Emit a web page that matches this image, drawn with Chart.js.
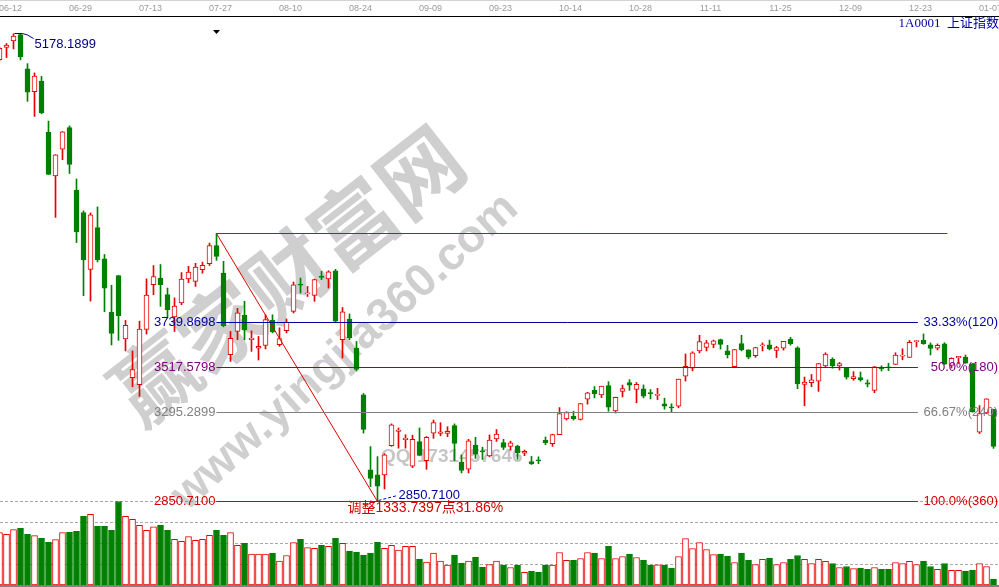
<!DOCTYPE html>
<html>
<head>
<meta charset="utf-8">
<script src="https://cdn.jsdelivr.net/npm/chart.js@4.4.1/dist/chart.umd.min.js"></script>
<style>
  html, body { margin: 0; padding: 0; background: #fff; }
  canvas { display: block; }
</style>
</head>
<body>
<canvas id="myChart" width="999" height="587"></canvas>
<script>
// first two bars (06-10, 06-11) sit partly off the left edge
var idx0 = -2;

var dates = ["06-10","06-11","06-12","06-15","06-16","06-17","06-18","06-19","06-23","06-24","06-25","06-26","06-29","06-30",
  "07-01","07-02","07-03","07-06","07-07","07-08","07-09","07-10","07-13","07-14","07-15","07-16","07-17","07-20","07-21","07-22","07-23","07-24","07-27","07-28","07-29","07-30","07-31",
  "08-03","08-04","08-05","08-06","08-07","08-10","08-11","08-12","08-13","08-14","08-17","08-18","08-19","08-20","08-21","08-24","08-25","08-26","08-27","08-28","08-31",
  "09-01","09-02","09-07","09-08","09-09","09-10","09-11","09-14","09-15","09-16","09-17","09-18","09-21","09-22","09-23","09-24","09-25","09-28","09-29","09-30",
  "10-08","10-09","10-12","10-13","10-14","10-15","10-16","10-19","10-20","10-21","10-22","10-23","10-26","10-27","10-28","10-29","10-30",
  "11-02","11-03","11-04","11-05","11-06","11-09","11-10","11-11","11-12","11-13","11-16","11-17","11-18","11-19","11-20","11-23","11-24","11-25","11-26","11-27","11-30",
  "12-01","12-02","12-03","12-04","12-07","12-08","12-09","12-10","12-11","12-14","12-15","12-16","12-17","12-18","12-21","12-22","12-23","12-24","12-25","12-28","12-29","12-30","12-31",
  "01-04","01-05","01-06","01-07"];

var opens = [5050,5110,5143,5174,5004,4890,4942,4689,4471,4604,4711,4399,4289,4006,
  4214,4058,3793,3975,3660,3467,3432,3707,3930,3963,3880,3769,3839,3958,3946,4004,4034,4124,3988,3581,3697,3778,3656,
  3614,3627,3752,3631,3701,3797,3930,3884,3876,3973,3958,3999,3656,3759,3614,3382,3008,2983,2983,3129,3200,
  3158,3027,3149,3054,3191,3190,3189,3228,3046,3011,3130,3100,3078,3162,3144,3125,3127,3091,3049,3053,
  3156,3139,3183,3262,3275,3259,3360,3404,3381,3428,3301,3398,3443,3408,3411,3390,3379,
  3337,3322,3325,3474,3514,3600,3617,3632,3656,3600,3522,3636,3605,3577,3625,3631,3602,3614,3659,3616,3433,
  3442,3450,3525,3558,3525,3513,3462,3467,3441,3403,3514,3518,3533,3574,3568,3646,3653,3631,3614,3635,3528,3566,3570,
  3536,3196,3291,3309];

var highs = [5112,5130,5178.19,5176.79,5029.68,4983.67,4966,4744,4577,4691.77,4720,4456,4297,4287,
  4317,4080,3927,3975.21,3752,3600,3748,3959,4025,4030,3913,3864,3990,4021,4036,4042,4137,4184.4497,4046,3697,3812,3847,3700,
  3672,3780,3780,3715,3759,3943,3963,3921,3958,3996,3999,4006,3816,3784,3647,3388,3124,3074,3088,3237,3217,
  3183,3181,3217,3174,3256,3243,3223,3237,3083,3160,3170,3121,3182,3209,3160,3151,3131,3107,3075,3073,
  3172,3186,3318,3298,3300,3338,3394,3423,3425,3447,3370,3430,3457,3443,3431,3408,3414,
  3365,3337,3460,3585,3596,3678,3652,3654,3659,3628,3607,3678,3606,3618,3640,3654,3623,3648,3668,3621,3470,
  3483,3538,3591,3566,3543,3518,3497,3495,3456,3523,3526,3539,3591,3611,3652,3652,3684.57,3640,3635,3641,3566,3573,3580,
  3538,3328,3362,3309];

var lows = [5045,5060,5103,5048.74,4842.1,4767.2,4780,4478.36,4264.77,4552,4483,4139.53,3875.05,3847.88,
  4043,3795,3629.56,3653,3600,3421.53,3373.54,3684,3880,3822,3764,3697,3830,3940,3921,3987,4025,4051,3720,3548,3656,3656,3598,
  3555,3610,3690,3623,3690,3789,3888,3871,3847,3955,3913,3743,3565,3656,3500,3191,2925,2850.71,2913,3125,3116,
  3116,3019,3078,3011,3165,3178,3173,3054,2993,2993,3065,3060,3073,3150,3109,3106,3061,3079,3035,3039,
  3133,3125,3183,3256,3256,3256,3335,3366,3367,3300,3291,3371,3404,3342,3366,3361,3358,
  3310,3294,3317,3450,3501,3590,3600,3616,3609,3565,3522,3600,3561,3568,3600,3605,3567,3604,3629,3412,3327,
  3422,3399,3517,3514,3505,3460,3454,3449,3421,3392,3500,3502,3533,3556,3568,3620,3633,3580,3605,3533,3515,3538,3538,
  3295,3189,3288,3115];

var closes = [5106,5122,5166.35,5062.99,4887.43,4967.9,4785.36,4478.36,4576.49,4690.15,4527.78,4192.87,4053.03,4277.22,
  4053.7,3912.77,3686.92,3775.91,3727.12,3507.19,3709.33,3877.8,3970.39,3930,3805,3823,3957,3992,4017,4026,4123.92,4070.91,3725.56,3663,3789.17,3705.77,3663.73,
  3622.91,3756.54,3694.57,3661.54,3744.2,3928.42,3927.91,3888,3954.56,3965.33,3993.67,3748.16,3794.11,3664.29,3507.74,3209.91,2964.97,2927.29,3083.59,3232.35,3205.99,
  3166.62,3160.17,3080.42,3170.45,3243.09,3197.89,3200.23,3140,3005.17,3152.26,3086.06,3097.92,3156.54,3185.62,3120,3142.69,3092.35,3100.76,3038.14,3052.78,
  3143.36,3183.15,3287.66,3293.23,3262.44,3338.07,3391.35,3386.7,3425.33,3320.68,3368.74,3412.43,3429.58,3434.34,3375.2,3387.32,3382.56,
  3325.08,3316.7,3459.64,3522.82,3590.03,3646.88,3640.49,3650.25,3632.9,3580.84,3606.96,3604.8,3568.47,3617.06,3630.5,3610.31,3616.11,3647.93,3635.55,3436.3,3445.4,
  3456.31,3536.91,3584.82,3524.99,3536.93,3470.07,3472.44,3455.5,3434.58,3520.67,3510.35,3516.19,3580,3578.96,3642.47,3651.77,3636.09,3612.49,3627.91,3533.78,3563.74,3572.88,3539.18,
  3296.26,3287.71,3361.84,3125];

var volumes = [627,607,663,679,607,591,560,512,544,627,631,643,821,845,
  702,702,655,1000,821,786,714,655,698,714,655,548,524,579,536,548,595,655,595,627,476,500,369,
  369,369,381,286,353,508,548,448,440,476,464,560,500,405,393,357,381,512,440,476,417,
  464,464,310,274,381,286,238,357,262,286,333,214,246,286,238,210,238,151,167,155,
  238,238,389,294,294,317,389,381,317,464,317,341,369,329,298,238,242,
  238,202,341,556,437,508,425,365,369,345,270,381,298,246,306,321,246,270,306,353,306,
  258,306,282,258,210,222,198,202,187,210,187,187,270,258,282,246,286,222,187,258,175,175,167,
  179,258,222,71];

// date label every 10 bars, starting on 06-12
var tickIdx = [0,10,20,30,40,50,60,70,80,90,100,110,120,130,140];

// swing used for the golden-section lines
var peak = { idx: 0, value: 5178.19, label: "5178.1899" };
var fibFrom = 29, fibTo = 52;
var fibRatios = [1/3, 0.5, 2/3, 1];
var fibLeft = ["3739.8698", "3517.5798", "3295.2899", "2850.7100"];
var fibRight = ["33.33%(120)", "50.0%(180)", "66.67%(240)", "100.0%(360)"];
var fibColors = ["#0000a0", "#800080", "#808080", "#d40000"];
var fibEndIdx = 129.2, topEndIdx = 133.4;
var lowLabel = "2850.7100";
var swingText = "调整1333.7397点31.86%";
var volGrid = [250, 500, 750, 1000];

var RED = "#e60000", GREEN = "#008000", LINE_RED = "#e00000";

var xs = dates.map(function (d, k) { return k + idx0; });
var up = opens.map(function (o, k) { return closes[k] >= o; });

var bodies = xs.map(function (x, k) { return { x: x, y: [opens[k], closes[k]] }; });
var wicks = xs.map(function (x, k) { return { x: x, y: [lows[k], highs[k]] }; });
var vols = xs.map(function (x, k) { return { x: x, y: volumes[k] }; });

var FONT = '"Liberation Sans", Arial, sans-serif';

var drawings = {
  id: "drawings",
  beforeDatasetsDraw: function (chart) {
    var ctx = chart.ctx;
    // watermark
    ctx.save();
    ctx.fillStyle = "rgba(140,140,140,0.42)";
    ctx.textAlign = "center";
    ctx.textBaseline = "middle";
    ctx.translate(287, 275);
    ctx.rotate(-38 * Math.PI / 180);
    ctx.font = 'bold 84px "Noto Sans CJK SC"';
    ctx.fillText("赢家财富网", 0, 0);
    ctx.restore();

    ctx.save();
    ctx.fillStyle = "rgba(140,140,140,0.42)";
    ctx.textAlign = "center";
    ctx.textBaseline = "middle";
    ctx.translate(345, 352);
    ctx.rotate(-42 * Math.PI / 180);
    ctx.font = "bold 46px " + FONT;
    ctx.fillText("www.yingjia360.com", 0, 0);
    ctx.restore();

    ctx.save();
    ctx.fillStyle = "rgba(150,150,150,0.55)";
    ctx.textAlign = "left";
    ctx.textBaseline = "middle";
    ctx.font = "bold 19px " + FONT;
    ctx.fillText("QQ:1731457646", 381, 457);
    ctx.restore();
  },
  afterDatasetsDraw: function (chart) {
    var ctx = chart.ctx, x = chart.scales.x, y = chart.scales.y, area = chart.chartArea;
    var px = function (i) { return x.getPixelForValue(i); };
    var py = function (v) { return Math.floor(y.getPixelForValue(v)) + 0.5; };
    var hi = highs[fibFrom - idx0], lo = lows[fibTo - idx0];

    ctx.save();
    ctx.lineWidth = 1;
    // top line and diagonal
    ctx.strokeStyle = LINE_RED;
    ctx.beginPath();
    ctx.moveTo(px(fibFrom), py(hi));
    ctx.lineTo(px(topEndIdx), py(hi));
    ctx.stroke();
    ctx.beginPath();
    ctx.moveTo(px(fibFrom), py(hi));
    ctx.lineTo(px(fibTo), py(lo));
    ctx.stroke();

    ctx.font = "13px " + FONT;
    ctx.textBaseline = "middle";
    fibRatios.forEach(function (r, j) {
      var v = hi - r * (hi - lo);
      var yy = py(v);
      ctx.strokeStyle = fibColors[j];
      ctx.beginPath();
      ctx.moveTo(px(fibFrom), yy);
      ctx.lineTo(px(fibEndIdx), yy);
      ctx.stroke();
      ctx.fillStyle = fibColors[j];
      ctx.textAlign = "right";
      ctx.fillText(fibLeft[j], px(fibFrom) - 1, yy);
      ctx.fillText(fibRight[j], area.right - 1, yy);
    });

    // peak label
    var x0 = Math.round(px(peak.idx)) + 0.5, y0 = py(peak.value);
    ctx.strokeStyle = "#000080";
    ctx.beginPath();
    ctx.moveTo(x0, y0);
    ctx.lineTo(x0 + 8, y0);
    ctx.lineTo(x0 + 13, y0 + 1.5);
    ctx.lineTo(x0 + 19, y0 + 5);
    ctx.stroke();
    ctx.fillStyle = "#000080";
    ctx.textAlign = "left";
    ctx.fillText(peak.label, x0 + 20, y0 + 11);

    // low label
    var x1 = Math.round(px(fibTo)) + 0.5, y1 = py(lo);
    ctx.strokeStyle = "#0000a0";
    ctx.setLineDash([3, 2]);
    ctx.beginPath();
    ctx.moveTo(x1, y1 - 1);
    ctx.lineTo(x1 + 19, y1 - 6);
    ctx.stroke();
    ctx.setLineDash([]);
    ctx.fillStyle = "#0000a0";
    ctx.fillText(lowLabel, x1 + 20, y1 - 6);

    ctx.fillStyle = "#d40000";
    ctx.font = "14px " + FONT + ', "Noto Sans CJK SC"';
    ctx.fillText(swingText, x1 - 31, y1 + 7);

    // marker above the swing high
    var xm = px(fibFrom);
    ctx.fillStyle = "#000";
    ctx.beginPath();
    ctx.moveTo(xm - 3.5, 30);
    ctx.lineTo(xm + 3.5, 30);
    ctx.lineTo(xm, 34);
    ctx.closePath();
    ctx.fill();

    // title
    ctx.fillStyle = "#0000a0";
    ctx.textAlign = "right";
    ctx.font = '13px "Liberation Serif", "Noto Sans CJK SC"';
    ctx.fillText("1A0001  上证指数", area.right, 24);
    ctx.restore();
  },
  afterDraw: function (chart) {
    var ctx = chart.ctx, area = chart.chartArea;
    ctx.save();
    ctx.fillStyle = "#808080";
    ctx.fillRect(0, area.bottom, chart.width, 2);
    ctx.fillStyle = "#d6d3ce";
    ctx.fillRect(0, 0, chart.width, 1);
    ctx.restore();
  }
};

new Chart("myChart", {
  type: "bar",
  data: {
    datasets: [
      {
        data: bodies, yAxisID: "y", barThickness: 5, minBarLength: 1,
        borderWidth: 1, borderSkipped: false, grouped: false, order: 0,
        backgroundColor: up.map(function (u) { return u ? "#fff" : GREEN; }),
        borderColor: up.map(function (u) { return u ? RED : GREEN; })
      },
      {
        data: wicks, yAxisID: "y", barThickness: 1, grouped: false, order: 1,
        backgroundColor: up.map(function (u) { return u ? RED : GREEN; })
      },
      {
        data: vols, yAxisID: "yv", barThickness: 6,
        borderWidth: 1, borderSkipped: false, grouped: false, order: 2,
        backgroundColor: up.map(function (u) { return u ? "#fff" : GREEN; }),
        borderColor: up.map(function (u) { return u ? RED : GREEN; })
      }
    ]
  },
  options: {
    responsive: false,
    animation: false,
    events: [],
    layout: { padding: { left: 0, right: 0, top: 0, bottom: 2 } },
    plugins: { legend: { display: false }, tooltip: { enabled: false } },
    scales: {
      x: {
        type: "linear", position: "top", offset: false,
        min: -13.5 / 7, max: (999 - 13.5) / 7,
        afterBuildTicks: function (axis) { axis.ticks = tickIdx.map(function (v) { return { value: v }; }); },
        afterFit: function (axis) {
          axis.height = 16;
          axis.paddingLeft = 0;
          axis.paddingRight = 0;
        },
        grid: { display: false, drawTicks: false },
        border: { display: true, color: "#000", width: 1, dash: [2, 1] },
        ticks: {
          autoSkip: false, maxRotation: 0, padding: 2, labelOffset: -3,
          color: "#999", font: { family: FONT, size: 9 },
          callback: function (v) { return dates[v - idx0]; }
        }
      },
      y: {
        display: false,
        min: 2850.71 - 83.5 / 0.20094, max: 2850.71 + 485.5 / 0.20094
      },
      yv: {
        position: "left", min: 0, max: 1000 * 569 / 83.5,
        afterBuildTicks: function (axis) { axis.ticks = volGrid.map(function (v) { return { value: v }; }); },
        afterFit: function (axis) { axis.width = 0; },
        ticks: { display: false },
        grid: { color: "#a8a8a8", lineWidth: 1, drawTicks: false },
        border: { display: false, dash: [3, 2] }
      }
    }
  },
  plugins: [drawings]
});
</script>
</body>
</html>
